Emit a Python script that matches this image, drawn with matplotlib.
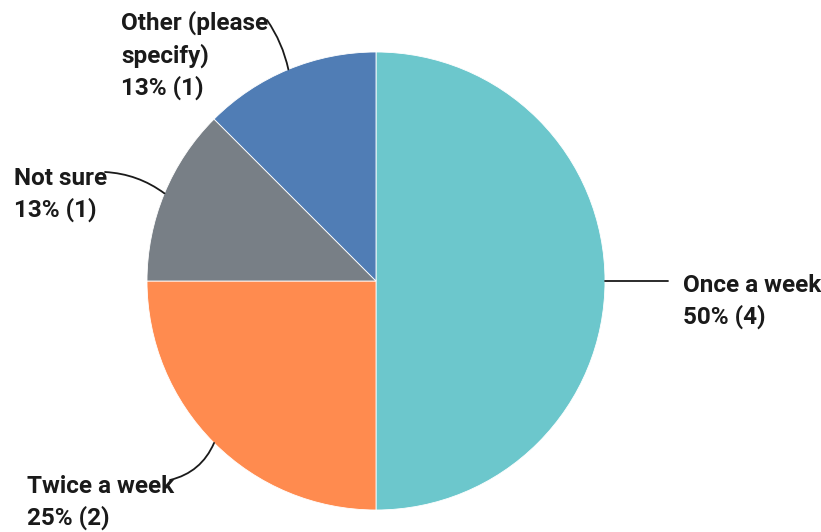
import numpy as np
import matplotlib
matplotlib.use("Agg")
import matplotlib.pyplot as plt

# survey answers, drawn clockwise from 12 o'clock
answers = ["Once a week", "Twice a week", "Not sure", "Other (please\nspecify)"]
counts = [4, 2, 1, 1]
colors = ["#6cc7cc", "#ff8b4f", "#787f86", "#507db5"]

W, H = 821, 532
fig = plt.figure(figsize=(W / 100, H / 100), dpi=100)
ax = fig.add_axes([0, 0, 1, 1])

cx, cy, r = 376, H - 281, 229
wedges, _ = ax.pie(counts, colors=colors, startangle=90, counterclock=False,
                   center=(cx, cy), radius=r, frame=True,
                   wedgeprops=dict(linewidth=0.6, edgecolor="white"))
ax.set_xlim(0, W)
ax.set_ylim(0, H)
ax.set_aspect("equal")
ax.axis("off")

total = sum(counts)
pcts = [int(100 * c / total + 0.5) for c in counts]

# (line end x, line end y, text x, text top y, rad)
label_pos = [
    (668, 281, 683, 274, 0.0),
    (170, 480, 27, 475, -0.25),
    (105, 172, 14, 167, 0.15),
    (267, 20, 121, 11, 0.1),
]

for w, name, c, p, (ex, ey, tx, ty, rad) in zip(wedges, answers, counts, pcts, label_pos):
    mid = np.deg2rad((w.theta1 + w.theta2) / 2)
    sx, sy = cx + r * np.cos(mid), cy + r * np.sin(mid)
    ax.annotate("", xy=(ex, H - ey), xytext=(sx, sy),
                arrowprops=dict(arrowstyle="-", color="#1a1a1a", lw=1.3,
                                shrinkA=0, shrinkB=0,
                                connectionstyle=f"arc3,rad={rad}"))
    ax.text(tx, H - ty, f"{name}\n{p}% ({c})", ha="left", va="top",
            fontsize=17.5, fontweight="bold", family="Roboto", color="#1a1a1a",
            linespacing=1.42)

fig.savefig("out.png", dpi=100)
